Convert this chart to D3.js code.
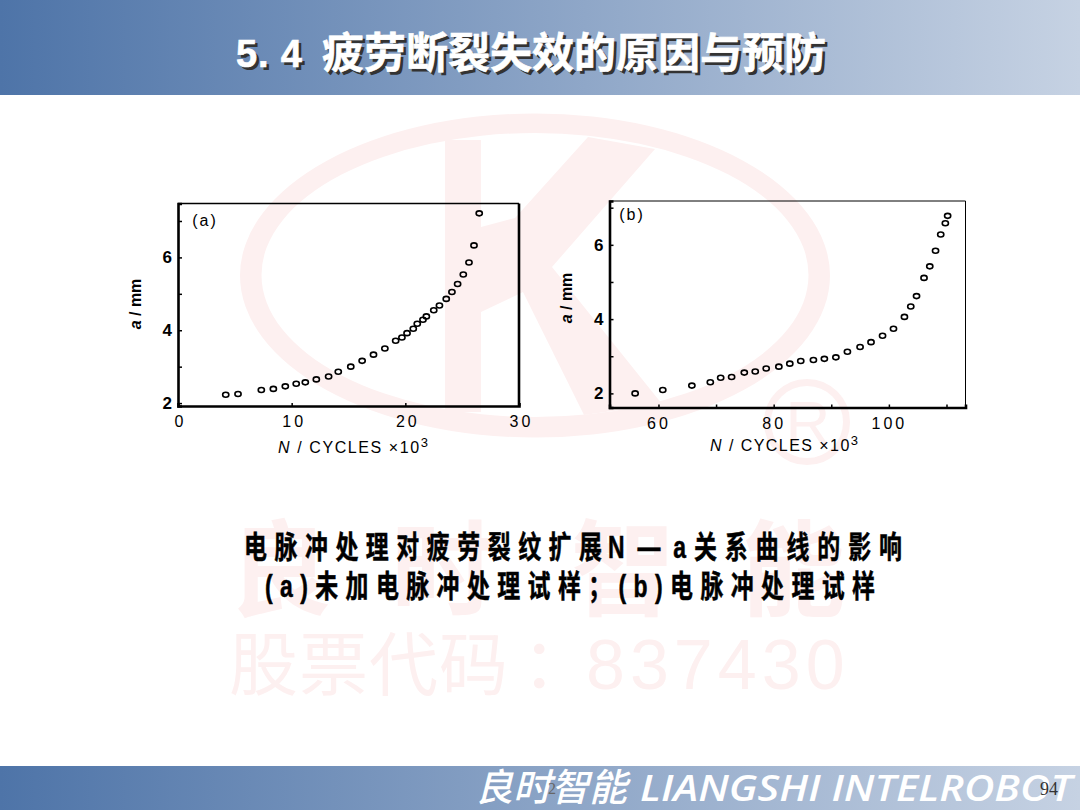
<!DOCTYPE html>
<html lang="zh-CN"><head><meta charset="utf-8">
<script src="https://cdn.jsdelivr.net/npm/d3@7/dist/d3.min.js"></script>
<style>html,body{margin:0;padding:0;background:#fff;overflow:hidden}svg{display:block}
text{font-family:"Liberation Sans","Noto Sans CJK SC",sans-serif}</style></head><body>
<svg id="c" width="1080" height="810" viewBox="0 0 1080 810"></svg>
<script>
// chart (a): untreated specimen
const cyclesA=[4.2,5.28,7.33,8.39,9.44,10.4,11.2,12.17,13.25,14.1,15.2,16.2,17.2,18.2,19.15,19.7,20.15,20.7,21.05,21.55,21.85,22.5,23.0,23.6,24.1,24.6,25.1,25.6,26.04,26.5];
const lengthA=[2.23,2.25,2.36,2.39,2.46,2.53,2.57,2.65,2.73,2.86,3.0,3.16,3.33,3.5,3.71,3.8,3.92,4.04,4.18,4.29,4.38,4.55,4.68,4.86,5.05,5.27,5.53,5.86,6.33,7.21];
// chart (b): electropulse-treated specimen
const cyclesB=[55.95,60.75,65.8,69,70.8,72.7,74.9,76.8,78.7,80.9,82.8,84.7,86.9,88.8,90.8,92.8,95,96.9,98.9,100.8,102.7,103.8,104.8,106.1,107.1,108.1,109,109.8,110.2];
const lengthB=[2.0,2.09,2.21,2.3,2.42,2.44,2.56,2.59,2.67,2.72,2.8,2.87,2.9,2.93,2.97,3.12,3.25,3.38,3.55,3.74,4.06,4.34,4.62,5.11,5.42,5.84,6.28,6.58,6.78];
const xTicksA=[0,10,20,30], xLabelsA=["0","10","20","30"];
const xTicksB=[60,70,80,90,100,110], xLabelsB={60:"60",80:"80",100:"100"};
const yTicks=[2,3,4,5,6,7], yLabels={2:"2",4:"4",6:"6"};
const titleNumber="5. 4", titleText="疲劳断裂失效的原因与预防";
const captionA="电脉冲处理对疲劳裂纹扩展", captionB="N—a", captionC="关系曲线的影响";
const captionLine2="(a)未加电脉冲处理试样；(b)电脉冲处理试样";
const footerCn="良时智能", footerEn="LIANGSHI INTELROBOT";

const svg=d3.select("#c");
const defs=svg.append("defs");
const grad=defs.append("linearGradient").attr("id","band");
grad.append("stop").attr("offset","0").attr("stop-color","#4e74a8");
grad.append("stop").attr("offset","1").attr("stop-color","#c6d2e3");

// watermark
const pink="#fdf0f0";
const wm=svg.append("g");
wm.append("path").attr("fill-rule","evenodd").attr("fill",pink)
 .attr("d",(()=>{const e=(cx,cy,rx,ry)=>`M${cx-rx},${cy}A${rx},${ry} 0 1 0 ${cx+rx},${cy}A${rx},${ry} 0 1 0 ${cx-rx},${cy}Z`;return e(535,275.5,295,162)+e(535,275,273.5,142);})());
wm.append("rect").attr("x",445).attr("y",140).attr("width",36).attr("height",272).attr("fill",pink);
wm.append("path").attr("fill",pink).attr("d","M481,227L515,218L588,137L655,149L552,267L662,404L584,415L523,292L481,312Z");
wm.append("circle").attr("cx",807).attr("cy",422).attr("r",39.5).attr("fill","none").attr("stroke",pink).attr("stroke-width",7);
wm.append("text").attr("x",808).attr("y",444).attr("text-anchor","middle").attr("font-size",62).attr("fill",pink).text("R");
[["良",280],["时",443],["智",623],["能",793]].forEach(([t,x])=>wm.append("text").attr("x",x).attr("y",608).attr("text-anchor","middle").attr("font-size",104).attr("font-weight",700).attr("fill",pink).text(t));
wm.append("text").attr("x",229).attr("y",690).attr("font-size",69).attr("letter-spacing",1).attr("fill",pink).text("股票代码");
wm.append("text").attr("x",522).attr("y",688).attr("font-size",69).attr("fill",pink).text("：");
wm.append("text").attr("x",586).attr("y",689).attr("font-size",70).attr("letter-spacing",5).attr("fill",pink).text("837430");

// bands
svg.append("rect").attr("width",1080).attr("height",95).attr("fill","url(#band)");
svg.append("rect").attr("y",766).attr("width",1080).attr("height",44).attr("fill","url(#band)");

// title
[["#333",3,3,0],["#fff",0,0,0.6]].forEach(([c,dx,dy,sw])=>{
 svg.append("text").attr("x",236+dx).attr("y",67+dy).attr("font-size",38).attr("font-weight",700).attr("fill",c).attr("stroke",c).attr("stroke-width",sw).attr("textLength",66).text(titleNumber);
 svg.append("text").attr("x",322+dx).attr("y",68+dy).attr("font-size",42).attr("font-weight",700).attr("fill",c).attr("stroke",c).attr("stroke-width",sw).text(titleText);
});

function panel(o){
 const g=svg.append("g");
 const x=d3.scaleLinear().domain(o.xd).range([o.l,o.r]);
 const y=d3.scaleLinear().domain(o.yd).range([o.b,o.t]);
 g.append("line").attr("x1",o.l).attr("x2",o.r).attr("y1",o.t).attr("y2",o.t).attr("stroke","#000").attr("stroke-width",o.tw);
 g.append("line").attr("x1",o.r).attr("x2",o.r).attr("y1",o.t).attr("y2",o.b).attr("stroke","#000").attr("stroke-width",o.rw);
 const ax=g.append("g").attr("transform",`translate(0,${o.b})`).call(d3.axisBottom(x).tickValues(o.xt).tickSize(-3).tickPadding(10).tickFormat(o.xf));
 const ay=g.append("g").attr("transform",`translate(${o.l},0)`).call(d3.axisLeft(y).tickValues(yTicks).tickSize(-4).tickPadding(6).tickFormat(d=>yLabels[d]||""));
 [ax,ay].forEach(a=>{a.select(".domain").attr("stroke-width",2.6);a.selectAll("line").attr("stroke-width",1.5);
  a.selectAll("text").attr("fill","#000");});
 ax.selectAll("text").attr("font-size",16).attr("letter-spacing",3).attr("dx",o.lx);
 ay.selectAll("text").attr("font-size",17).attr("font-weight",700);
 g.selectAll("ellipse").data(o.n.map((d,i)=>[d,o.a[i]])).join("ellipse")
  .attr("cx",d=>x(d[0])).attr("cy",d=>y(d[1])).attr("rx",3.1).attr("ry",2.5)
  .attr("fill","none").attr("stroke","#000").attr("stroke-width",1.6);
 g.append("text").attr("x",o.tag[0]).attr("y",o.tag[1]).attr("font-size",16).attr("letter-spacing",2).attr("text-anchor","middle").text(o.tag[2]);
 const xt=g.append("text").attr("x",o.xl[0]).attr("y",o.xl[1]).attr("font-size",16).attr("textLength",o.xl[2]);
 xt.append("tspan").attr("font-style","italic").text("N");
 xt.append("tspan").text(" / CYCLES ×10");
 xt.append("tspan").attr("font-size",13).attr("dy",-6).text(o.sup);
 const yt=g.append("text").attr("transform",`translate(${o.yl[0]},${o.yl[1]}) rotate(-90)`).attr("text-anchor","middle").attr("font-size",16).attr("font-weight",700);
 yt.append("tspan").attr("font-style","italic").text("a");
 yt.append("tspan").text(" / mm");
}
panel({l:178,r:519,t:203.5,b:406,xd:[0,30],yd:[1.92,7.48],n:cyclesA,a:lengthA,xt:xTicksA,xf:(d,i)=>xLabelsA[i],tw:1.5,rw:2.6,lx:2,tag:[205,226,"(a)"],xl:[278,453,150],yl:[141,304],sup:"3"});
panel({l:609.5,r:965.5,t:201,b:407.5,xd:[51.5,113.3],yd:[1.62,7.18],n:cyclesB,a:lengthB,xt:xTicksB,xf:d=>xLabelsB[d]||"",tw:1,rw:1,lx:0,tag:[632,220,"(b)"],xl:[710,451,148],yl:[572,298],sup:"3"});

// caption (narrow, tall glyphs)
function cap(txt,x,y,len,sx=0.74){
 svg.append("text").attr("transform",`translate(${x},${y}) scale(${sx},1)`).attr("font-size",31).attr("font-weight",700).attr("fill","#000").attr("stroke","#000").attr("stroke-width",0.5)
  .attr("textLength",len/sx).attr("lengthAdjust","spacing").text(txt);
}
cap(captionA,244,558,358);
cap(captionB,608,558,78);
cap(captionC,694,558,208);
cap(captionLine2,265,597,610);

// footer
svg.append("text").attr("x",475).attr("y",801).attr("font-size",38).attr("font-weight",500).attr("font-style","italic").attr("fill","#fff").text(footerCn);
svg.append("text").attr("x",640).attr("y",801).attr("font-size",36).attr("font-weight",600).attr("font-style","italic").attr("fill","#fff").style("font-family","'Open Sans'").attr("textLength",432).attr("lengthAdjust","spacingAndGlyphs").text(footerEn);
svg.append("text").attr("x",548).attr("y",794).attr("font-size",16).attr("fill","#666").style("font-family","Liberation Serif").text("2");
svg.append("text").attr("x",1040).attr("y",795).attr("font-size",18).attr("fill","#333").style("font-family","Liberation Serif").text("94");
</script></body></html>
